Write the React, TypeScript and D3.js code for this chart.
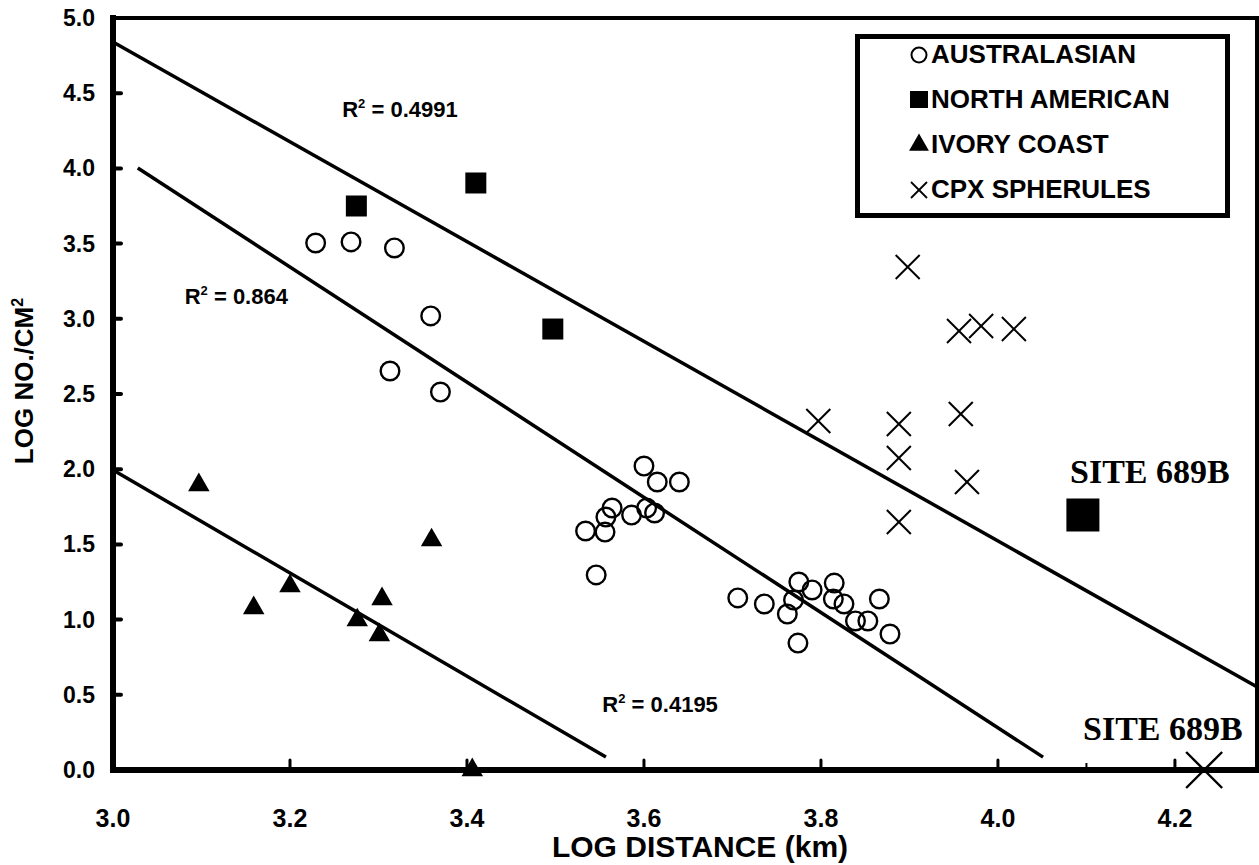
import React from 'react';
import * as d3 from 'd3';

// log distance (km), log no./cm2
const australasian: [number, number][] = [
  [3.229, 3.504], [3.269, 3.511], [3.318, 3.471], [3.359, 3.019], [3.313, 2.653],
  [3.370, 2.513], [3.600, 2.021], [3.615, 1.915], [3.640, 1.915], [3.564, 1.742],
  [3.557, 1.682], [3.534, 1.589], [3.556, 1.582], [3.586, 1.695], [3.603, 1.742],
  [3.612, 1.709], [3.546, 1.297], [3.706, 1.144], [3.736, 1.104], [3.762, 1.037],
  [3.769, 1.130], [3.775, 1.250], [3.790, 1.197], [3.815, 1.243], [3.814, 1.137],
  [3.826, 1.104], [3.839, 0.991], [3.853, 0.991], [3.866, 1.137], [3.878, 0.904],
  [3.774, 0.844],
];
const northAmerican: [number, number][] = [[3.275, 3.750], [3.410, 3.903], [3.497, 2.932]];
const ivoryCoast: [number, number][] = [
  [3.097, 1.895], [3.360, 1.529], [3.200, 1.223], [3.304, 1.137], [3.159, 1.077],
  [3.276, 0.997], [3.301, 0.898], [3.406, 0.0],
];
const cpxSpherules: [number, number][] = [
  [3.898, 3.344], [3.956, 2.919], [3.981, 2.952], [4.018, 2.932], [3.797, 2.320],
  [3.888, 2.301], [3.888, 2.074], [3.958, 2.367], [3.965, 1.915], [3.888, 1.649],
];
const site689bNA: [number, number] = [4.096, 1.695];
const site689bCPX: [number, number] = [4.233, 0.0];

// regression lines: value at x = 3.0, slope, drawn x range
const fitNames = ['0.4991', '0.864', '0.4195'];
const fitIntercepts = [4.840, 4.110, 1.995];
const fitSlopes = [-3.317, -3.829, -3.427];
const fitRanges: [number, number][] = [[3.0, 4.3], [3.028, 4.051], [3.0, 3.557]];
const fitLabelPos: [number, number][] = [[3.259, 4.34], [3.081, 3.10], [3.553, 0.385]];

const xTicks = [3.0, 3.2, 3.4, 3.6, 3.8, 4.0, 4.2];
const xMinorTicks = [4.1];
const yTicks = [0, 0.5, 1, 1.5, 2, 2.5, 3, 3.5, 4, 4.5, 5];
const legendLabels = ['AUSTRALASIAN', 'NORTH AMERICAN', 'IVORY COAST', 'CPX SPHERULES'];

const W = 1259;
const H = 865;
const SANS = '"Liberation Sans", Arial, Helvetica, sans-serif';
const SERIF = '"Liberation Serif", "Times New Roman", serif';

export default function App() {
  const x = d3.scaleLinear().domain([3.0, 4.295]).range([113, 1259]);
  const y = d3.scaleLinear().domain([0, 5]).range([770, 18]);

  const lineGen = d3.line<number>().x(d => x(d[0])).y(d => y(d[1]));
  const tri = d3.symbol().type(d3.symbolTriangle).size(200)() as string;
  const sq = d3.symbol().type(d3.symbolSquare).size(441)() as string;
  const sqBig = d3.symbol().type(d3.symbolSquare).size(1089)() as string;

  const cross = (px: number, py: number, h: number, sw: number, key: string) => (
    <g key={key} stroke="#000" strokeWidth={sw}>
      <line x1={px - h} y1={py - h} x2={px + h} y2={py + h} />
      <line x1={px - h} y1={py + h} x2={px + h} y2={py - h} />
    </g>
  );

  const r2 = (label: string, px: number, py: number, key: string) => (
    <text key={key} x={px} y={py} fontFamily={SANS} fontWeight="bold" fontSize={22}>
      R<tspan fontSize={13} dy={-9}>2</tspan><tspan dy={9}> = {label}</tspan>
    </text>
  );

  return (
    <svg width={W} height={H} style={{ position: 'absolute', left: 0, top: 0, background: '#fff' }}>
      {/* regression lines */}
      {fitNames.map((n, i) => {
        const pts = fitRanges[i].map(xv => [xv, fitIntercepts[i] + fitSlopes[i] * (xv - 3.0)]);
        return <path key={n} d={lineGen(pts as any) as string} fill="none" stroke="#000" strokeWidth={3.5} />;
      })}
      {fitNames.map((n, i) => r2(n, x(fitLabelPos[i][0]), y(fitLabelPos[i][1]), 'l' + n))}

      {/* frame */}
      <rect x={113} y={18} width={1144} height={752} fill="none" stroke="#000" strokeWidth={4} />
      <line x1={113} y1={15} x2={113} y2={773} stroke="#000" strokeWidth={6} />
      <line x1={110} y1={770} x2={W} y2={770} stroke="#000" strokeWidth={6} />

      {/* y ticks */}
      {yTicks.map(t => (
        <g key={'y' + t}>
          {t > 0 && t < 5 && (
            <line x1={113} x2={121} y1={y(t)} y2={y(t)} stroke="#000" strokeWidth={4} strokeLinecap="round" />
          )}
          <text x={95} y={y(t) + 8} textAnchor="end" fontFamily={SANS} fontWeight="bold" fontSize={23}>
            {t.toFixed(1)}
          </text>
        </g>
      ))}
      {/* x ticks */}
      {xTicks.map(t => (
        <g key={'x' + t}>
          {t > 3.0 && (
            <line x1={x(t)} x2={x(t)} y1={770} y2={760} stroke="#000" strokeWidth={3} strokeLinecap="round" />
          )}
          <text x={x(t)} y={827} textAnchor="middle" fontFamily={SANS} fontWeight="bold" fontSize={25}>
            {t.toFixed(1)}
          </text>
        </g>
      ))}
      {xMinorTicks.map(t => (
        <line key={'m' + t} x1={x(t)} x2={x(t)} y1={770} y2={763} stroke="#000" strokeWidth={2} />
      ))}

      {/* axis titles */}
      <text x={700} y={857} textAnchor="middle" fontFamily={SANS} fontWeight="bold" fontSize={30}>
        LOG DISTANCE (km)
      </text>
      <text transform="translate(33,381) rotate(-90)" textAnchor="middle" fontFamily={SANS} fontWeight="bold" fontSize={26}>
        LOG NO./CM<tspan fontSize={16} dy={-10}>2</tspan>
      </text>

      {/* points */}
      {australasian.map((d, i) => (
        <circle key={'a' + i} cx={x(d[0])} cy={y(d[1])} r={9.3} fill="none" stroke="#000" strokeWidth={2.4} />
      ))}
      {northAmerican.map((d, i) => (
        <path key={'n' + i} d={sq} transform={`translate(${x(d[0])},${y(d[1])})`} fill="#000" />
      ))}
      <path d={sqBig} transform={`translate(${x(site689bNA[0])},${y(site689bNA[1])})`} fill="#000" />
      {ivoryCoast.map((d, i) => (
        <path key={'t' + i} d={tri} transform={`translate(${x(d[0])},${y(d[1])})`} fill="#000" />
      ))}
      {cpxSpherules.map((d, i) => cross(x(d[0]), y(d[1]), 12, 2, 'c' + i))}
      {cross(x(site689bCPX[0]), y(site689bCPX[1]), 18, 2.4, 'cs')}

      {/* site labels */}
      <text x={1070} y={483} fontFamily={SERIF} fontWeight="bold" fontSize={34}>SITE 689B</text>
      <text x={1083} y={740} fontFamily={SERIF} fontWeight="bold" fontSize={34}>SITE 689B</text>

      {/* legend */}
      <rect x={857.5} y={36.5} width={370} height={179} fill="#fff" stroke="#000" strokeWidth={5} />
      {legendLabels.map((lab, i) => {
        const cy = 55 + i * 45;
        const sx = 919;
        let sym: React.ReactNode;
        if (i === 0) sym = <circle cx={sx} cy={cy} r={7.5} fill="none" stroke="#000" strokeWidth={2} />;
        else if (i === 1) sym = <rect x={sx - 9} y={cy - 9} width={18} height={17} fill="#000" />;
        else if (i === 2) sym = <path d={d3.symbol().type(d3.symbolTriangle).size(170)() as string} transform={`translate(${sx},${cy})`} fill="#000" />;
        else sym = cross(sx, cy, 8, 1.8, 'lc');
        return (
          <g key={lab}>
            {sym}
            <text x={931} y={cy + 8} fontFamily={SANS} fontWeight="bold" fontSize={26}>{lab}</text>
          </g>
        );
      })}
    </svg>
  );
}
